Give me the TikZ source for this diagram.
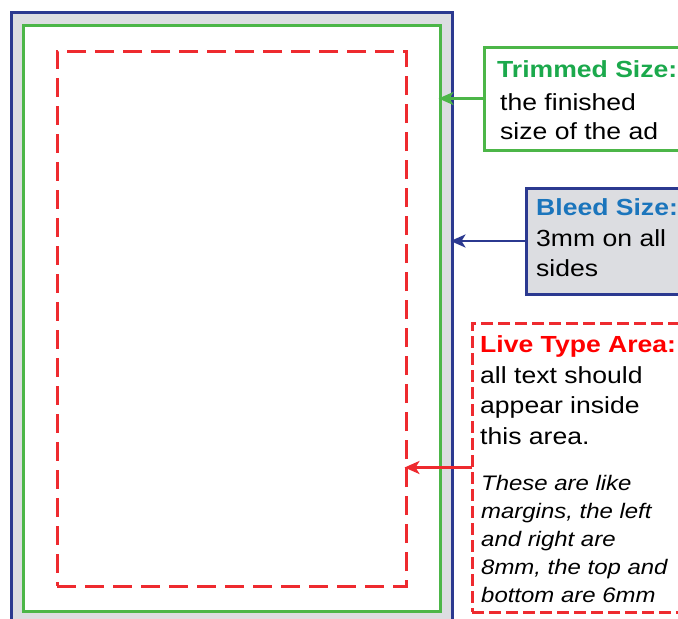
\documentclass[tikz,border=0pt]{standalone}
\usepackage{fontspec}
\setmainfont{Liberation Sans}
\newfontfamily\lab[FakeStretch=1.14]{Liberation Sans}
\usetikzlibrary{arrows.meta}
\definecolor{bleedblue}{HTML}{2B3990}
\definecolor{pagegray}{HTML}{DCDDE1}
\definecolor{trimgreen}{HTML}{4CB648}
\definecolor{livered}{HTML}{EE2A2F}
\definecolor{titlegreen}{HTML}{1BA94C}
\definecolor{titleblue}{HTML}{1B75BC}
\definecolor{titlered}{HTML}{FF0000}
\begin{document}
\begin{tikzpicture}[x=1pt,y=-1pt,
  frame/.style={draw, line width=3pt, inner sep=0pt, outer sep=0pt, anchor=north west},
  livedash/.style={dash pattern=on 19pt off 9pt},
  boxdash/.style={dash pattern=on 12pt off 5pt},
  pointer/.style={line width=2.5pt, -{Stealth[length=15pt,width=13pt,inset=4pt]}, shorten >=-1.5pt},
  title/.style={anchor=base west, inner sep=0pt, font=\lab\bfseries\fontsize{23.3}{27}\selectfont},
  body/.style={anchor=base west, inner sep=0pt, font=\lab\fontsize{23.3}{27}\selectfont},
  note/.style={anchor=base west, inner sep=0pt, font=\lab\itshape\fontsize{21}{25}\selectfont}]
\useasboundingbox (0,0) rectangle (678,619);
\clip (0,0) rectangle (678,619);
\fill[white] (0,0) rectangle (678,619);
% page rectangles
\node[frame, draw=bleedblue, fill=pagegray, minimum width=441pt, minimum height=640pt] (bleed) at (11,12) {};
\node[frame, draw=trimgreen, fill=white, minimum width=417pt, minimum height=586pt] (trim) at (23,25) {};
\node[frame, draw=livered, livedash, minimum width=349pt, minimum height=535pt] (live) at (57,51) {};
% label boxes
\node[frame, draw=trimgreen, fill=white, minimum width=230pt, minimum height=103pt] (trimbox) at (484,47) {};
\node[frame, draw=bleedblue, fill=pagegray, minimum width=190pt, minimum height=106pt] (bleedbox) at (526,188) {};
\node[frame, draw=livered, boxdash, fill=white, minimum width=240pt, minimum height=289pt] (livebox) at (472,323) {};
% pointers
\draw[pointer, trimgreen] (trimbox.west) -- (trimbox.west -| trim.east);
\draw[pointer, bleedblue] (bleedbox.west) -- (bleedbox.west -| bleed.east);
\draw[pointer, livered] (livebox.west) -- (livebox.west -| live.east);
% texts
\node[title, text=titlegreen] (tt) at (497,77.5) {Trimmed Size:};
\node[body] (tb1) at (500,110) {the finished};
\node[body] (tb2) at (500,139.5) {size of the ad};
\node[title, text=titleblue] (bt) at (536,215) {Bleed Size:};
\node[body] (bb1) at (536,246) {3mm on all};
\node[body] (bb2) at (536,276.5) {sides};
\node[title, text=titlered] (lt) at (480,352) {Live Type Area:};
\node[body] (lb1) at (480,383) {all text should};
\node[body] (lb2) at (480,413.5) {appear inside};
\node[body] (lb3) at (480,444) {this area.};
\node[note] (ln1) at (481,490) {These are like};
\node[note] (ln2) at (481,518) {margins, the left};
\node[note] (ln3) at (481,546) {and right are};
\node[note] (ln4) at (481,574) {8mm, the top and};
\node[note] (ln5) at (481,602) {bottom are 6mm};
\end{tikzpicture}
\end{document}
